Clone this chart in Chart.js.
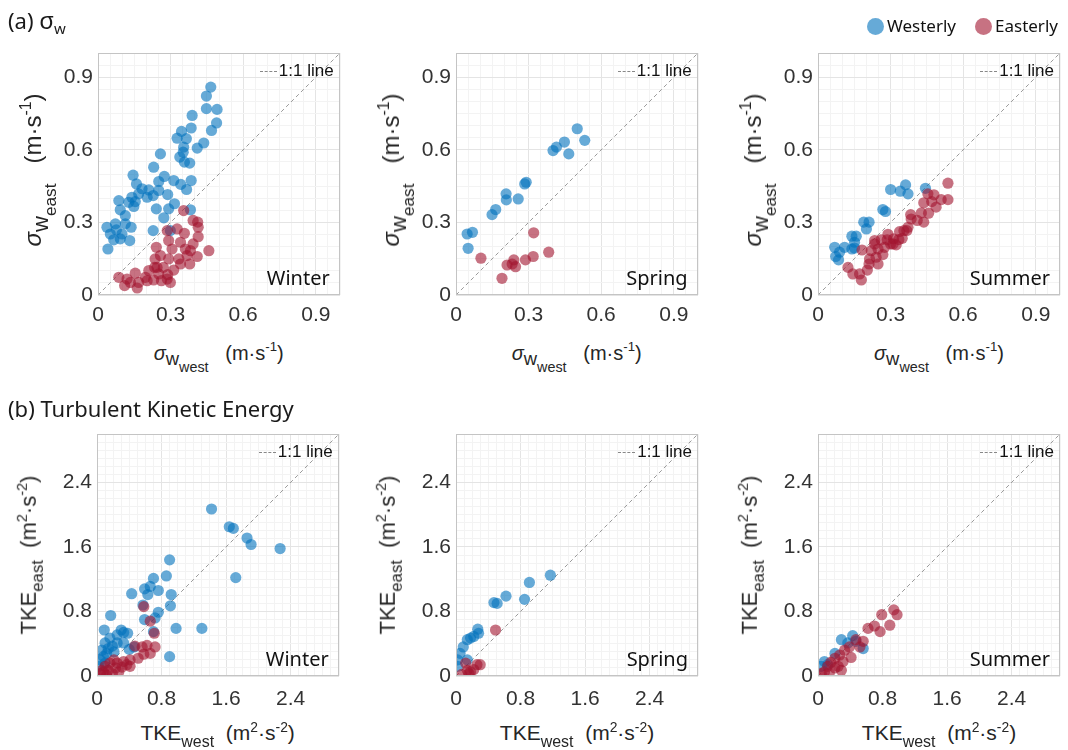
<!DOCTYPE html>
<html><head><meta charset="utf-8">
<script src="https://cdn.jsdelivr.net/npm/chart.js@4"></script>
<style>
body{margin:0;background:#fff;width:1068px;height:750px;position:relative;overflow:hidden;font-family:"Liberation Sans",Arial,sans-serif;color:#262626}
.abs{position:absolute;white-space:nowrap}
canvas{position:absolute}
.ttl{font-family:"Noto Sans","Open Sans",sans-serif;color:#1a1a1a}
.xt{position:absolute;text-align:center;line-height:22px;white-space:nowrap}
.yt{position:absolute;line-height:24px;white-space:nowrap;transform:translate(-50%,-50%) rotate(-90deg)}
.s1{position:relative;top:0.32em;font-size:0.92em}
.s2{position:relative;top:0.45em;font-size:0.78em}
.sb{position:relative;top:0.4em;font-size:0.76em}
sup{font-size:0.66em;position:relative;top:-0.05em}
.season{position:absolute;font-family:"Noto Sans","Open Sans",sans-serif;font-size:20px;color:#111;text-align:right;line-height:24px}
.oneone{position:absolute;font-size:17px;color:#111;line-height:20px}
.dash{display:inline-block;width:17px;border-top:1px dashed #888;vertical-align:middle;margin-right:2px}
.leg{position:absolute;font-family:"Noto Sans","Open Sans",sans-serif;font-size:17px;line-height:20px;color:#111}
.dot{display:inline-block;width:17px;height:17px;border-radius:50%;vertical-align:middle;margin-right:3px;position:relative;top:-1px}
</style></head><body>
<script>
// ---------------- DATA ----------------
const sigmaTicks = [0, 0.3, 0.6, 0.9];
const tkeTicks = [0, 0.8, 1.6, 2.4];
const sigmaRange = [0, 1.0];
const tkeRange = [0, 3.0];

const sigmaWinterWesterly = [[0.466,0.859],[0.448,0.822],[0.448,0.770],[0.492,0.767],[0.490,0.711],[0.469,0.680],[0.389,0.742],[0.385,0.690],[0.327,0.648],[0.345,0.676],[0.365,0.646],[0.410,0.607],[0.437,0.628],[0.354,0.611],[0.352,0.590],[0.338,0.570],[0.379,0.545],[0.385,0.473],[0.258,0.583],[0.230,0.528],[0.145,0.495],[0.159,0.459],[0.182,0.439],[0.210,0.434],[0.251,0.469],[0.274,0.490],[0.313,0.473],[0.342,0.457],[0.366,0.436],[0.203,0.404],[0.168,0.418],[0.140,0.404],[0.228,0.411],[0.251,0.432],[0.288,0.415],[0.316,0.377],[0.292,0.356],[0.272,0.319],[0.154,0.386],[0.127,0.383],[0.086,0.390],[0.092,0.352],[0.148,0.366],[0.113,0.328],[0.137,0.280],[0.113,0.294],[0.072,0.294],[0.037,0.280],[0.051,0.252],[0.076,0.269],[0.099,0.252],[0.131,0.225],[0.065,0.228],[0.041,0.190],[0.092,0.232],[0.228,0.266],[0.299,0.266],[0.241,0.356],[0.382,0.352],[0.357,0.549]];
const sigmaWinterEasterly = [[0.354,0.349],[0.393,0.308],[0.412,0.301],[0.414,0.280],[0.327,0.273],[0.286,0.266],[0.357,0.255],[0.341,0.218],[0.292,0.225],[0.241,0.197],[0.306,0.190],[0.361,0.190],[0.393,0.211],[0.414,0.241],[0.458,0.183],[0.382,0.183],[0.368,0.163],[0.410,0.159],[0.334,0.149],[0.292,0.149],[0.258,0.163],[0.236,0.149],[0.341,0.128],[0.379,0.128],[0.313,0.103],[0.270,0.114],[0.234,0.114],[0.210,0.101],[0.251,0.087],[0.288,0.084],[0.230,0.062],[0.196,0.073],[0.262,0.059],[0.299,0.052],[0.154,0.090],[0.120,0.066],[0.086,0.073],[0.168,0.052],[0.134,0.052],[0.110,0.039],[0.162,0.029],[0.203,0.059],[0.286,0.066],[0.244,0.114]];
const sigmaSpringWesterly = [[0.501,0.687],[0.532,0.639],[0.448,0.632],[0.415,0.611],[0.401,0.597],[0.466,0.583],[0.290,0.466],[0.284,0.459],[0.207,0.418],[0.208,0.393],[0.257,0.397],[0.164,0.353],[0.149,0.332],[0.068,0.259],[0.046,0.252],[0.050,0.193]];
const sigmaSpringEasterly = [[0.321,0.257],[0.383,0.177],[0.319,0.159],[0.287,0.145],[0.239,0.145],[0.246,0.117],[0.211,0.124],[0.103,0.152],[0.190,0.069],[0.232,0.128]];
const sigmaSummerWesterly = [[0.444,0.441],[0.362,0.455],[0.372,0.418],[0.340,0.429],[0.300,0.436],[0.268,0.353],[0.279,0.345],[0.211,0.301],[0.189,0.301],[0.200,0.273],[0.158,0.243],[0.140,0.243],[0.151,0.218],[0.140,0.190],[0.151,0.194],[0.110,0.197],[0.069,0.197],[0.089,0.177],[0.073,0.159],[0.085,0.145]];
const sigmaSummerEasterly = [[0.537,0.462],[0.537,0.394],[0.509,0.394],[0.479,0.414],[0.454,0.418],[0.437,0.381],[0.470,0.386],[0.488,0.363],[0.457,0.338],[0.427,0.339],[0.383,0.332],[0.385,0.314],[0.410,0.308],[0.437,0.301],[0.372,0.280],[0.367,0.266],[0.355,0.266],[0.337,0.262],[0.334,0.229],[0.348,0.234],[0.312,0.232],[0.286,0.228],[0.261,0.228],[0.234,0.225],[0.300,0.211],[0.323,0.207],[0.275,0.197],[0.248,0.190],[0.220,0.183],[0.182,0.186],[0.268,0.167],[0.240,0.156],[0.213,0.149],[0.248,0.128],[0.211,0.128],[0.204,0.103],[0.172,0.087],[0.144,0.087],[0.124,0.114],[0.179,0.062],[0.289,0.251],[0.310,0.211],[0.234,0.211]];

const tkeWinterWesterly = [[1.42,2.07],[1.64,1.85],[1.69,1.83],[1.86,1.71],[1.91,1.63],[2.27,1.58],[1.72,1.22],[0.90,1.44],[0.86,1.24],[0.70,1.21],[0.76,1.06],[0.66,1.11],[0.59,1.08],[0.63,1.01],[0.92,1.01],[0.91,0.87],[0.43,1.02],[0.57,0.88],[0.76,0.79],[0.72,0.72],[0.59,0.70],[0.70,0.55],[0.98,0.59],[1.30,0.59],[0.90,0.24],[0.17,0.75],[0.09,0.57],[0.30,0.57],[0.33,0.54],[0.38,0.53],[0.25,0.51],[0.16,0.47],[0.10,0.41],[0.19,0.37],[0.06,0.32],[0.14,0.34],[0.08,0.24],[0.04,0.20],[0.12,0.28],[0.46,0.36],[0.40,0.33],[0.25,0.41],[0.02,0.12],[0.10,0.16],[0.21,0.30],[0.33,0.41]];
const tkeWinterEasterly = [[0.58,0.86],[0.66,0.68],[0.71,0.53],[0.47,0.37],[0.56,0.36],[0.62,0.38],[0.72,0.36],[0.58,0.27],[0.51,0.22],[0.66,0.28],[0.41,0.20],[0.33,0.18],[0.25,0.16],[0.16,0.16],[0.31,0.11],[0.23,0.10],[0.14,0.07],[0.08,0.05],[0.04,0.03],[0.19,0.03],[0.37,0.14],[0.10,0.12],[0.27,0.05],[0.12,0.01],[0.06,0.07],[0.41,0.12],[0.21,0.20]];
const tkeSpringWesterly = [[1.17,1.25],[0.91,1.16],[0.85,0.95],[0.62,0.99],[0.51,0.90],[0.47,0.91],[0.27,0.58],[0.28,0.53],[0.22,0.49],[0.14,0.45],[0.09,0.36],[0.05,0.28],[0.02,0.20],[0.02,0.12],[0.14,0.20],[0.18,0.47]];
const tkeSpringEasterly = [[0.49,0.57],[0.26,0.14],[0.30,0.14],[0.12,0.16],[0.14,0.07],[0.18,0.05],[0.07,0.02],[0.22,0.08],[0.16,0.03]];
const tkeSummerWesterly = [[0.43,0.50],[0.29,0.45],[0.37,0.41],[0.56,0.34],[0.21,0.28],[0.08,0.18],[0.04,0.12],[0.12,0.14],[0.47,0.43]];
const tkeSummerEasterly = [[0.94,0.82],[0.98,0.76],[0.79,0.76],[0.89,0.63],[0.70,0.62],[0.62,0.59],[0.77,0.55],[0.56,0.43],[0.47,0.45],[0.39,0.36],[0.33,0.32],[0.27,0.26],[0.21,0.22],[0.16,0.17],[0.12,0.12],[0.08,0.05],[0.14,0.04],[0.25,0.12],[0.31,0.18],[0.41,0.23],[0.52,0.36],[0.21,0.10],[0.29,0.07],[0.04,0.03]];

const seasons = ["Winter", "Spring", "Summer"];
const seriesNames = ["Westerly", "Easterly"];
// --------------------------------------

const BLUE = 'rgba(0,114,189,0.6)';
const RED = 'rgba(162,20,47,0.6)';
const PW = 242, PH = 242, PADL = 60, PADT = 20, PADR = 20, XH = 40;

const boxPlugin = {
  id: 'box',
  afterDraw(chart) {
    const a = chart.chartArea, c = chart.ctx;
    c.save(); c.strokeStyle = '#c4c4c4'; c.lineWidth = 1;
    c.strokeRect(Math.round(a.left) + 0.5, Math.round(a.top) + 0.5, Math.round(a.right - a.left) - 1, Math.round(a.bottom - a.top) - 1);
    c.restore();
  }
};

function makePanel(plotLeft, plotTop, west, east, range, ticks, minorStep, xTickLen) {
  const cv = document.createElement('canvas');
  cv.width = PADL + PW + PADR; cv.height = PADT + PH + XH;
  cv.style.left = (plotLeft - PADL) + 'px';
  cv.style.top = (plotTop - PADT) + 'px';
  document.body.appendChild(cv);
  const major = ticks[1];
  const isMajor = v => Math.abs(v / major - Math.round(v / major)) < 1e-6;
  const axis = (isX) => ({
    type: 'linear', min: range[0], max: range[1],
    afterBuildTicks(scale) {
      const t = [];
      const n = Math.round((range[1] - range[0]) / minorStep);
      for (let i = 0; i <= n; i++) t.push({ value: +(range[0] + i * minorStep).toFixed(6) });
      scale.ticks = t;
    },
    afterFit(scale) { if (isX) scale.height = XH; else scale.width = PADL; },
    ticks: {
      autoSkip: false, maxRotation: 0, padding: isX ? 3 : 5, color: '#333333',
      font: { family: '"Liberation Sans", Arial, sans-serif', size: 21 },
      callback: v => { const t = ticks.find(t => Math.abs(t - v) < 1e-6); return t === undefined ? '' : String(t); }
    },
    grid: {
      drawTicks: isX, tickLength: xTickLen, tickColor: 'rgba(0,0,0,0)',
      color: ctx => (ctx.tick && isMajor(ctx.tick.value)) ? '#e4e4e4' : '#f3f3f3',
      lineWidth: 1
    },
    border: { display: false }
  });
  const toPts = arr => arr.map(p => ({ x: p[0], y: p[1] }));
  new Chart(cv, {
    type: 'scatter',
    data: {
      datasets: [
        { label: '1:1 line', type: 'line', data: [{ x: range[0], y: range[0] }, { x: range[1], y: range[1] }],
          borderColor: '#9a9a9a', borderWidth: 1, borderDash: [4, 3], pointRadius: 0, order: 3 },
        { label: seriesNames[0], data: toPts(west), backgroundColor: BLUE, borderWidth: 0, pointRadius: 5.6, order: 2 },
        { label: seriesNames[1], data: toPts(east), backgroundColor: RED, borderWidth: 0, pointRadius: 5.6, order: 1 }
      ]
    },
    options: {
      responsive: false, animation: false, devicePixelRatio: 1,
      layout: { padding: { left: 0, top: PADT, right: PADR, bottom: 0 } },
      plugins: { legend: { display: false }, tooltip: { enabled: false } },
      scales: { x: axis(true), y: axis(false) }
    },
    plugins: [boxPlugin]
  });
}

function addHTML(html) { document.body.insertAdjacentHTML('beforeend', html); }

const topLefts = [97.7, 455.7, 818];
const botLefts = [96.7, 456, 818];
const topTop = 52.7, botTop = 434.3;
const sigmaData = [[sigmaWinterWesterly, sigmaWinterEasterly], [sigmaSpringWesterly, sigmaSpringEasterly], [sigmaSummerWesterly, sigmaSummerEasterly]];
const tkeData = [[tkeWinterWesterly, tkeWinterEasterly], [tkeSpringWesterly, tkeSpringEasterly], [tkeSummerWesterly, tkeSummerEasterly]];

for (let i = 0; i < 3; i++) {
  makePanel(topLefts[i], topTop, sigmaData[i][0], sigmaData[i][1], sigmaRange, sigmaTicks, 0.05, 5);
  makePanel(botLefts[i], botTop, tkeData[i][0], tkeData[i][1], tkeRange, tkeTicks, 0.1, 8);
}

// annotations
addHTML('<div class="abs ttl" style="left:8px;top:7px;font-size:22px;line-height:26px">(a) <span style="font-size:24px">σ</span><span style="font-size:15px;position:relative;top:5px">w</span></div>');
addHTML('<div class="abs ttl" style="left:8px;top:395px;font-size:22px;line-height:26px">(b) Turbulent Kinetic Energy</div>');
addHTML('<div class="leg" style="left:867px;top:16px"><span class="dot" style="background:' + BLUE + '"></span>' + seriesNames[0] + '</div>');
addHTML('<div class="leg" style="left:975px;top:16px"><span class="dot" style="background:' + RED + '"></span>' + seriesNames[1] + '</div>');

for (let i = 0; i < 3; i++) {
  for (const [L, T, R] of [[topLefts[i], topTop, sigmaRange], [botLefts[i], botTop, tkeRange]]) {
    const right = L + PW, bottom = T + PH;
    addHTML('<div class="oneone" style="left:' + (right - 90) + 'px;top:' + (T + 8) + 'px;width:84px;text-align:right"><span class="dash"></span>1:1 line</div>');
    addHTML('<div class="season" style="left:' + (right - 110) + 'px;top:' + (bottom - 29) + 'px;width:100px">' + seasons[i] + '</div>');
  }
  // axis titles
  const L = topLefts[i];
  addHTML('<div class="xt" style="font-size:20px;left:' + L + 'px;top:' + (topTop + PH + 42) + 'px;width:' + PW + 'px"><i>σ</i><span class="s1">w<span class="s2">west</span></span>&nbsp;&nbsp;&nbsp;(m·s<sup>-1</sup>)</div>');
  addHTML('<div class="yt" style="font-size:24px;left:' + (L - 67) + 'px;top:' + (topTop + 117) + 'px"><i>σ</i><span class="s1">w<span class="s2">east</span></span>&nbsp;&nbsp;&nbsp;(m·s<sup>-1</sup>)</div>');
  const B = botLefts[i];
  addHTML('<div class="xt" style="font-size:21px;left:' + B + 'px;top:' + (botTop + PH + 40) + 'px;width:' + PW + 'px">TKE<span class="sb">west</span>&nbsp;&nbsp;(m<sup>2</sup>·s<sup>-2</sup>)</div>');
  addHTML('<div class="yt" style="font-size:22px;left:' + (B - 70) + 'px;top:' + (botTop + 121) + 'px">TKE<span class="sb">east</span>&nbsp;&nbsp;(m<sup>2</sup>·s<sup>-2</sup>)</div>');
}
</script>
</body></html>
